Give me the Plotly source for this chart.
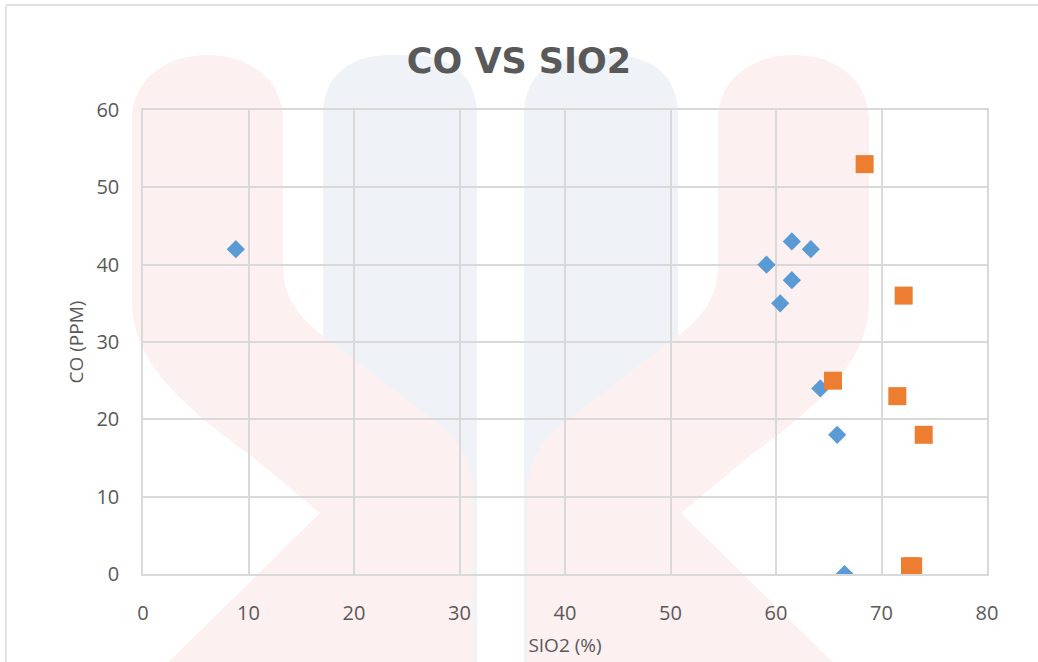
import plotly.graph_objects as go

# ---- data ----
blue_x = [8.8, 59.1, 61.5, 61.5, 60.4, 63.3, 64.2, 65.8, 66.5]
blue_y = [42, 40, 43, 38, 35, 42, 24, 18, 0]
orange_x = [68.4, 72.1, 65.4, 71.5, 74.0, 72.7, 73.0]
orange_y = [53, 36, 25, 23, 18, 1, 1]
x_ticks = [0, 10, 20, 30, 40, 50, 60, 70, 80]
y_ticks = [0, 10, 20, 30, 40, 50, 60]

W, H = 1038, 662
L, R, T, B = 143, 51, 110, 88
PW, PH = W - L - R, H - T - B


def px(x, y):
    return (x - L) / PW, (H - B - y) / PH


def path(cmds):
    out = []
    for c in cmds:
        if isinstance(c, str):
            out.append(c)
        else:
            xx, yy = px(*c)
            out.append(f"{xx:.4f},{yy:.4f}")
    return " ".join(out)


def mirror(pts):
    return [c if isinstance(c, str) else (1001 - c[0], c[1]) for c in pts]


blue_col = ["M", (323, 700), "L", (323, 115), "C", (323, 75), (350, 55), (390, 55),
            "L", (410, 55), "C", (450, 55), (477, 75), (477, 115), "L", (477, 700), "Z"]
pink = ["M", (132, 120), "C", (132, 80), (165, 55), (207, 55), "C", (250, 55), (283, 80), (283, 120),
        "L", (283, 265), "C", (283, 300), (300, 320), (335, 345), "L", (440, 425),
        "C", (465, 445), (473, 465), (473, 495), "L", (473, 700), "L", (130, 700),
        "L", (320, 513), "L", (250, 455), "C", (160, 390), (132, 350), (132, 300), "Z"]

shapes = []
for p in (blue_col, mirror(blue_col)):
    shapes.append(dict(type="path", xref="paper", yref="paper", path=path(p),
                       fillcolor="#eff3f7", line=dict(width=0), layer="below"))
for p in (pink, mirror(pink)):
    shapes.append(dict(type="path", xref="paper", yref="paper", path=path(p),
                       fillcolor="#fdf0f0", line=dict(width=0), layer="below"))
# chart-area border (top and left)
x6, y5 = px(6, 5)
x_end, _ = px(1038, 5)
_, y_bot = px(6, 662)
shapes.append(dict(type="line", xref="paper", yref="paper", x0=x6, x1=x_end, y0=y5, y1=y5,
                   line=dict(color="#d9d9d9", width=1.5)))
shapes.append(dict(type="line", xref="paper", yref="paper", x0=x6, x1=x6, y0=y5, y1=y_bot,
                   line=dict(color="#d9d9d9", width=1.5)))

fig = go.Figure()
fig.add_trace(go.Scatter(x=blue_x, y=blue_y, mode="markers", name="Blue",
                         marker=dict(symbol="diamond", size=14, color="#5b9bd5")))
fig.add_trace(go.Scatter(x=orange_x, y=orange_y, mode="markers", name="Orange",
                         marker=dict(symbol="square", size=18, color="#ed7d31")))

axis_font = dict(family="Open Sans, sans-serif", size=20, color="#595959")
title_font = dict(family="Open Sans, sans-serif", size=19, color="#595959")
fig.update_layout(
    width=W, height=H,
    margin=dict(l=L, r=R, t=T, b=B),
    paper_bgcolor="white", plot_bgcolor="rgba(0,0,0,0)",
    showlegend=False,
    shapes=shapes,
    title=dict(text="<b>CO VS SIO2</b>", x=0.5, xref="container", xanchor="center",
               y=1 - 61 / H, yref="container", yanchor="middle",
               font=dict(family="DejaVu Sans, sans-serif", size=35, color="#595959")),
    xaxis=dict(range=[0, 80], tickvals=x_ticks, showgrid=True, gridcolor="#d9d9d9", gridwidth=1.5,
               showline=True, linecolor="#d9d9d9", linewidth=1.5, mirror=True, zeroline=False,
               tickfont=axis_font, ticklabelstandoff=20, automargin=False,
               title=dict(text="SIO2 (%)", font=title_font, standoff=14)),
    yaxis=dict(range=[0, 60], tickvals=y_ticks, showgrid=True, gridcolor="#d9d9d9", gridwidth=1.5,
               showline=True, linecolor="#d9d9d9", linewidth=1.5, mirror=True, zeroline=False,
               tickfont=axis_font, ticklabelstandoff=18, automargin=False,
               title=dict(text="CO (PPM)", font=title_font, standoff=8)),
)

fig.write_html("out.html")
